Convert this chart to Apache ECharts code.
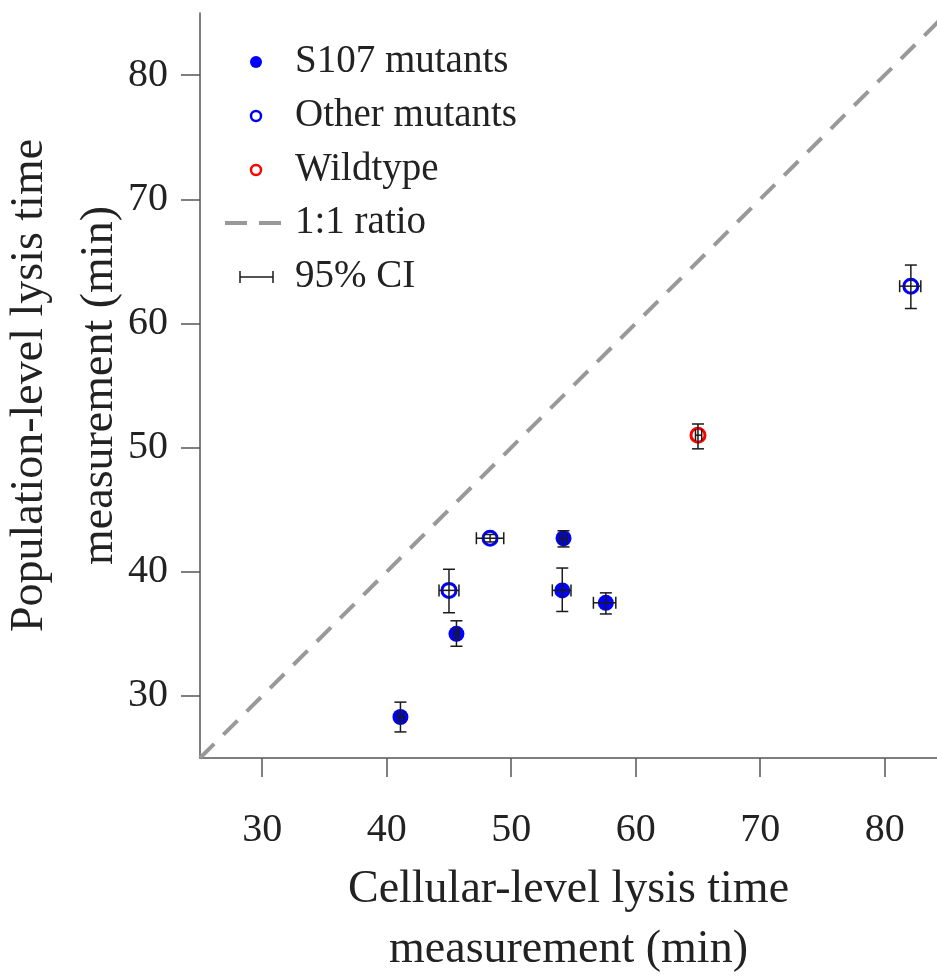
<!DOCTYPE html>
<html>
<head>
<meta charset="utf-8">
<script src="https://cdn.jsdelivr.net/npm/echarts@6/dist/echarts.min.js"></script>
<style>
  html, body { margin: 0; padding: 0; background: #fff; }
  #chart { width: 937px; height: 977px; }
</style>
</head>
<body>
<div id="chart"></div>
<script>
// points [x, y] and 95% CI [xLo, xHi, yLo, yHi]
const s107Points = [[41.1, 28.3], [45.6, 35.0], [54.2, 42.7], [54.1, 38.5], [57.6, 37.5]]
const s107Ci = [[40.9, 41.4, 27.1, 29.5], [45.4, 45.8, 34.0, 36.05], [53.9, 54.5, 42.0, 43.3], [53.3, 54.8, 36.8, 40.3], [56.6, 58.4, 36.6, 38.3]]
const otherPoints = [[45.0, 38.5], [48.3, 42.7], [82.1, 63.0]]
const otherCi = [[44.2, 45.8, 36.7, 40.2], [47.2, 49.4, 42.4, 43.0], [81.2, 82.9, 61.2, 64.7]]
const wildPoints = [[65.0, 51.0]]
const wildCi = [[64.8, 65.3, 49.9, 51.9]]
const ratioLine = [[25, 25], [85, 85]]
const tickValues = [30, 40, 50, 60, 70, 80]
const legendNames = ['S107 mutants', 'Other mutants', 'Wildtype', '1:1 ratio', '95% CI']

const FONT = "'Liberation Serif', 'DejaVu Serif', serif"
const TXT = '#222'
const AXIS = '#555'

// error bar rows for the custom series
const ciRows = []
;[[s107Points, s107Ci], [otherPoints, otherCi], [wildPoints, wildCi]].forEach(([pts, ci]) => {
  pts.forEach((p, i) => ciRows.push([p[0], p[1], ...ci[i]]))
})

const renderErrorBar = (params, api) => {
  const x = api.value(0), y = api.value(1)
  const l = api.coord([api.value(2), y])
  const r = api.coord([api.value(3), y])
  const b = api.coord([x, api.value(4)])
  const t = api.coord([x, api.value(5)])
  const cap = 6
  const style = { stroke: '#1a1a1a', lineWidth: 1.5 }
  const line = (x1, y1, x2, y2) => ({ type: 'line', shape: { x1, y1, x2, y2 }, style })
  return {
    type: 'group',
    children: [
      line(l[0], l[1], r[0], r[1]),
      line(l[0], l[1] - cap, l[0], l[1] + cap),
      line(r[0], r[1] - cap, r[0], r[1] + cap),
      line(b[0], b[1], t[0], t[1]),
      line(b[0] - cap, b[1], b[0] + cap, b[1]),
      line(t[0] - cap, t[1], t[0] + cap, t[1])
    ]
  }
}

// legend drawn by hand (icon + text per row)
const legendRowY = [62, 116, 170, 223, 277]
const legendIcons = [
  { type: 'circle', shape: { cx: 256, cy: 0, r: 6 }, style: { fill: '#0000ff' } },
  { type: 'circle', shape: { cx: 256, cy: 0, r: 5 }, style: { fill: '#fff', stroke: '#0000ff', lineWidth: 2.5 } },
  { type: 'circle', shape: { cx: 256, cy: 0, r: 5 }, style: { fill: '#fff', stroke: '#ff0000', lineWidth: 2.5 } },
  { type: 'line', shape: { x1: 225, y1: 0, x2: 281, y2: 0 }, style: { stroke: '#999', lineWidth: 4, lineDash: [22, 12] } },
  { type: 'group', children: [
    { type: 'line', shape: { x1: 240, y1: 0, x2: 273, y2: 0 }, style: { stroke: '#1a1a1a', lineWidth: 1.5 } },
    { type: 'line', shape: { x1: 240, y1: -6, x2: 240, y2: 6 }, style: { stroke: '#1a1a1a', lineWidth: 1.5 } },
    { type: 'line', shape: { x1: 273, y1: -6, x2: 273, y2: 6 }, style: { stroke: '#1a1a1a', lineWidth: 1.5 } }
  ] }
]
const legendGraphic = legendNames.map((name, i) => ({
  type: 'group',
  y: legendRowY[i],
  children: [
    legendIcons[i],
    {
      type: 'text',
      x: 295,
      y: 0,
      style: { text: name, font: `39px ${FONT}`, fill: TXT, verticalAlign: 'middle' }
    }
  ]
}))

const chart = echarts.init(document.getElementById('chart'))
chart.setOption({
  animation: false,
  backgroundColor: '#fff',
  grid: { left: 200, right: 0, top: 13, bottom: 219, containLabel: false, outerBoundsMode: 'none' },
  xAxis: {
    type: 'value',
    min: 25,
    max: 84.2,
    name: 'Cellular-level lysis time\nmeasurement (min)',
    nameLocation: 'middle',
    nameGap: 102,
    nameMoveOverlap: false,
    nameTextStyle: { fontFamily: FONT, fontSize: 46, color: TXT, lineHeight: 60 },
    splitLine: { show: false },
    axisLine: { show: true, onZero: false, lineStyle: { color: AXIS, width: 1.5 } },
    axisTick: { show: true, inside: false, length: 19, customValues: tickValues, lineStyle: { color: AXIS, width: 1.5 } },
    axisLabel: { customValues: tickValues, margin: 52, fontFamily: FONT, fontSize: 40, color: TXT }
  },
  yAxis: {
    type: 'value',
    min: 25,
    max: 85,
    name: 'Population-level lysis time\nmeasurement (min)',
    nameLocation: 'middle',
    nameGap: 65,
    nameMoveOverlap: false,
    nameTextStyle: { fontFamily: FONT, fontSize: 46, color: TXT, lineHeight: 70 },
    splitLine: { show: false },
    axisLine: { show: true, onZero: false, lineStyle: { color: AXIS, width: 1.5 } },
    axisTick: { show: true, inside: false, length: 19, customValues: tickValues, lineStyle: { color: AXIS, width: 1.5 } },
    axisLabel: { customValues: tickValues, margin: 32, fontFamily: FONT, fontSize: 40, color: TXT }
  },
  graphic: legendGraphic,
  series: [
    {
      name: '1:1 ratio',
      type: 'line',
      data: ratioLine,
      symbol: 'none',
      clip: true,
      lineStyle: { color: '#999', width: 4, type: [20, 13] },
      z: 1
    },
    {
      name: 'S107 mutants',
      type: 'scatter',
      data: s107Points,
      symbol: 'circle',
      symbolSize: 16,
      itemStyle: { color: '#0000ff', opacity: 1 },
      z: 3
    },
    {
      name: 'Other mutants',
      type: 'scatter',
      data: otherPoints,
      symbol: 'circle',
      symbolSize: 14,
      itemStyle: { color: '#fff', borderColor: '#0000ff', borderWidth: 3, opacity: 1 },
      z: 3
    },
    {
      name: 'Wildtype',
      type: 'scatter',
      data: wildPoints,
      symbol: 'circle',
      symbolSize: 14,
      itemStyle: { color: '#fff', borderColor: '#ff0000', borderWidth: 3, opacity: 1 },
      z: 3
    },
    {
      name: '95% CI',
      type: 'custom',
      data: ciRows,
      renderItem: renderErrorBar,
      encode: { x: 0, y: 1 },
      z: 5
    }
  ]
})
</script>
</body>
</html>
